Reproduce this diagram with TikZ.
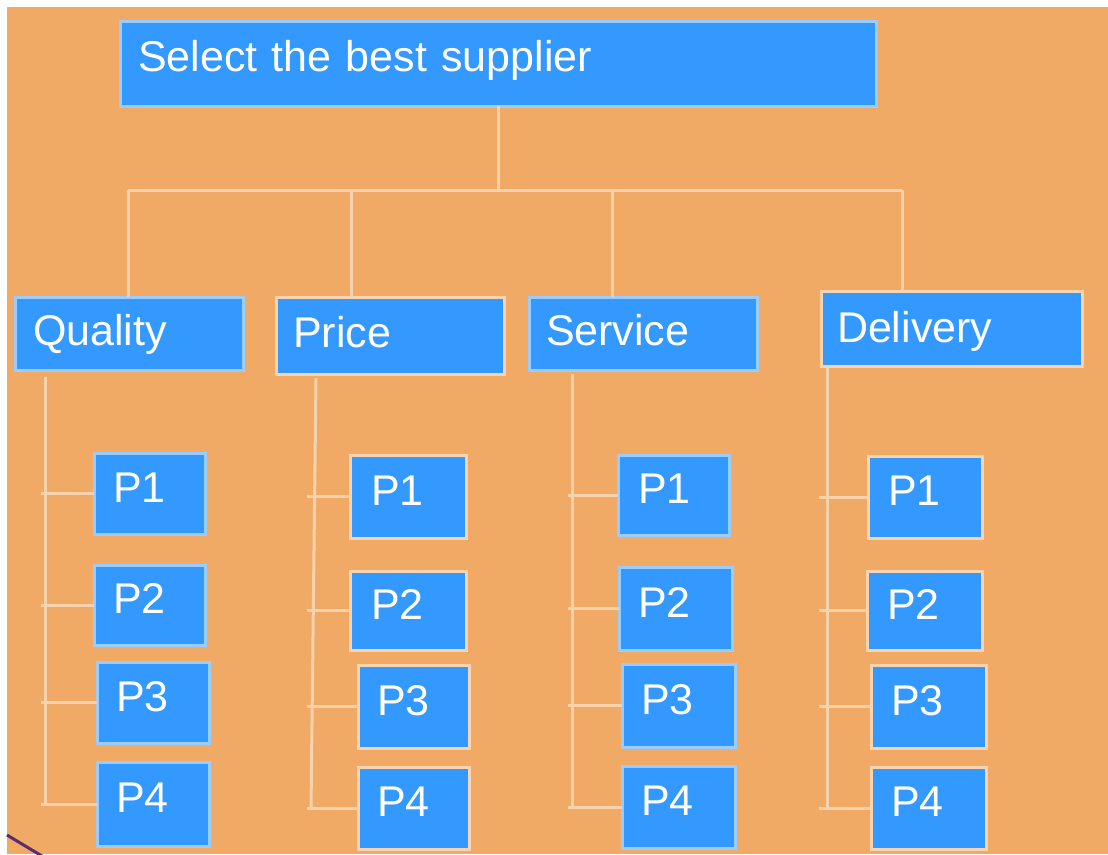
\documentclass[tikz,border=0pt]{standalone}
\usepackage{fontspec}
\setmainfont{Liberation Sans}
\definecolor{bgor}{HTML}{F0AA66}
\definecolor{bxfill}{HTML}{3399FF}
\definecolor{lb}{HTML}{99CCFF}
\definecolor{pe}{HTML}{F8D4B0}
\definecolor{ln}{HTML}{F7D2AC}
\definecolor{artf}{HTML}{5B2D6B}
\tikzset{
  box/.style={rectangle, fill=bxfill, line width=3pt, outer sep=0pt,
    align=left, text=white, text height=31pt,
    font=\fontsize{43}{47}\selectfont},
  conn/.style={draw=ln, line width=3pt},
  dTop/.style={text depth=15pt},
  dMid/.style={text depth=8pt},
  dLow/.style={text depth=3pt},
  dP/.style={text depth=14pt},
}
\newcommand\mybox[8][]{%
  \pgfmathsetmacro\myW{#5-#3}%
  \pgfmathsetmacro\myH{#6-#4}%
  \pgfmathsetmacro\myT{#5-#3-2*#7}%
  \node[box, #1, anchor=north west, minimum width=\myW pt, minimum height=\myH pt,
        text width=\myT pt, inner xsep=#7pt, inner ysep=0pt] (#2) at (#3,#4) {#8};}
\begin{document}
\begin{tikzpicture}[x=1pt, y=-1pt]
\useasboundingbox (0,0) rectangle (1108,854);
\fill[white] (0,0) rectangle (1108,854);
\fill[bgor] (7,7) rectangle (1108,854);

% boxes
\mybox[draw=lb, dTop]{top}{120}{21}{876}{106}{18}{Select the best supplier}
\mybox[draw=lb, dMid]{quality}{15}{297}{243}{370}{18}{Quality}
\mybox[draw=pe, dMid]{price}{276}{297}{504}{374}{17}{Price}
\mybox[draw=lb, dMid]{service}{529}{297}{757}{370}{17}{Service}
\mybox[draw=pe, dLow]{delivery}{821}{291}{1082}{366}{16}{Delivery}

\mybox[draw=lb, dP]{qp1}{94}{453}{205}{534}{19}{P1}
\mybox[draw=lb, dP]{qp2}{94}{565}{205}{645}{19}{P2}
\mybox[draw=lb, dP]{qp3}{97}{662}{209}{743}{19}{P3}
\mybox[draw=lb, dP]{qp4}{97}{762}{209}{846}{19}{P4}

\mybox[draw=pe, dP]{pp1}{350}{455}{466}{538}{21}{P1}
\mybox[draw=pe, dP]{pp2}{350}{571}{466}{650}{21}{P2}
\mybox[draw=pe, dP]{pp3}{358}{665}{469}{748}{19}{P3}
\mybox[draw=pe, dP]{pp4}{358}{767}{469}{849}{19}{P4}

\mybox[draw=lb, dP]{sp1}{618}{455}{729}{535}{20}{P1}
\mybox[draw=lb, dP]{sp2}{619}{567}{732}{650}{19}{P2}
\mybox[draw=lb, dP]{sp3}{622}{664}{735}{747}{19}{P3}
\mybox[draw=lb, dP]{sp4}{622}{766}{735}{848}{19}{P4}

\mybox[draw=pe, dP]{dp1}{868}{456}{982}{538}{20}{P1}
\mybox[draw=pe, dP]{dp2}{867}{571}{982}{650}{20}{P2}
\mybox[draw=pe, dP]{dp3}{871}{665}{986}{748}{20}{P3}
\mybox[draw=pe, dP]{dp4}{871}{767}{986}{849}{20}{P4}

% top level connectors
\coordinate (hub) at (498,190);
\coordinate (bq) at (128,190);
\coordinate (bp) at (351,190);
\coordinate (bs) at (612,190);
\coordinate (bd) at (902,190);
\draw[conn] (top.south) -- (hub);
\draw[conn] (bq) -- (bd);
\draw[conn] (bq) -- (bq |- quality.north);
\draw[conn] (bp) -- (bp |- price.north);
\draw[conn] (bs) -- (bs |- service.north);
\draw[conn] (bd) -- (bd |- delivery.north);

% Quality branch
\coordinate (qt) at (45,377);
\coordinate (qb) at (45,804);
\draw[conn] (qt) -- (qb);
\foreach \c in {qp1,qp2,qp3,qp4}
  \draw[conn] (\c.west) -- ([xshift=-4pt]\c.west -| qt);

% Price branch
\coordinate (pt) at (316,378);
\coordinate (pb) at (311,809);
\coordinate (px) at (313,600);
\draw[conn] (pt) -- (pb);
\foreach \c in {pp1,pp2,pp3,pp4}
  \draw[conn] (\c.west) -- ([xshift=-6pt]\c.west -| px);

% Service branch
\coordinate (st) at (572,374);
\coordinate (sb) at (572,807);
\draw[conn] (st) -- (sb);
\foreach \c in {sp1,sp2,sp3,sp4}
  \draw[conn] (\c.west) -- ([xshift=-4pt]\c.west -| st);

% Delivery branch
\coordinate (dt) at (827,366);
\coordinate (db) at (827,809);
\draw[conn] (dt) -- (db);
\foreach \c in {dp1,dp2,dp3,dp4}
  \draw[conn] (\c.west) -- ([xshift=-8pt]\c.west -| dt);

% corner artefact
\coordinate (a1) at (7,835);
\coordinate (a2) at (42,856);
\draw[draw=artf, line width=3pt] (a1) -- (a2);
\end{tikzpicture}
\end{document}
